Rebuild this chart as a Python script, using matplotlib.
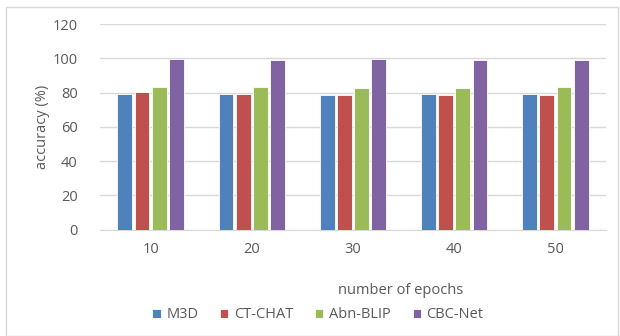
import matplotlib
matplotlib.use("Agg")
import matplotlib.pyplot as plt
from matplotlib.patches import Rectangle
import numpy as np

epochs = ["10", "20", "30", "40", "50"]
series_names = ["M3D", "CT-CHAT", "Abn-BLIP", "CBC-Net"]
m3d = [79.4, 79.4, 78.7, 79.3, 79.3]
ct_chat = [80.2, 79.4, 78.7, 78.7, 78.7]
abn_blip = [83.5, 83.5, 82.8, 82.8, 83.5]
cbc_net = [99.7, 99.2, 99.7, 99.2, 99.2]
yticks = [0, 20, 40, 60, 80, 100, 120]

colors = ["#4F81BD", "#C0504D", "#9BBB59", "#8064A2"]
text_color = "#595959"
fs = 10.5

plt.rcParams["font.family"] = ["Open Sans", "DejaVu Sans"]

fig = plt.figure(figsize=(6.2, 3.36), dpi=100)
ax = fig.add_axes([100 / 620, 1 - 229.7 / 336, 506 / 620, 205.7 / 336])

x = np.arange(len(epochs))
slot = 0.17
width = 0.145
for i, (vals, name) in enumerate(zip([m3d, ct_chat, abn_blip, cbc_net], series_names)):
    ax.bar(x + (i - 1.5) * slot, vals, width=width, color=colors[i], label=name,
           edgecolor="white", linewidth=0.6, zorder=3)

ax.set_xlim(-0.5, len(epochs) - 0.5)
ax.set_ylim(0, 120)
ax.set_yticks(yticks)
ax.set_xticks(x)
ax.set_xticklabels(epochs)
ax.yaxis.grid(True, color="#D9D9D9", linewidth=1.0, zorder=0)
for s in ["top", "right", "left"]:
    ax.spines[s].set_visible(False)
ax.spines["bottom"].set_color("#D9D9D9")
ax.tick_params(axis="both", length=0, colors=text_color, labelsize=fs)
ax.tick_params(axis="x", pad=9)
ax.tick_params(axis="y", pad=16)

fig.text(42 / 620, 1 - 127 / 336, "accuracy (%)", color=text_color, fontsize=fs,
         rotation=90, ha="center", va="center")
fig.text(401 / 620, 1 - 291 / 336, "number of epochs", color=text_color,
         fontsize=fs, ha="center", va="center")

leg = fig.legend(loc="center", bbox_to_anchor=(318 / 620, 1 - 315 / 336), ncol=4,
                 frameon=False, fontsize=fs, handlelength=0.55, handleheight=0.55,
                 handletextpad=0.4, columnspacing=1.5, labelcolor=text_color)

fig.patches.append(Rectangle((6 / 620, 0.0), 612 / 620, 1 - 7 / 336,
                             transform=fig.transFigure, fill=False,
                             edgecolor="#D9D9D9", linewidth=1.0))

fig.savefig("out.png", dpi=100, facecolor="white")
